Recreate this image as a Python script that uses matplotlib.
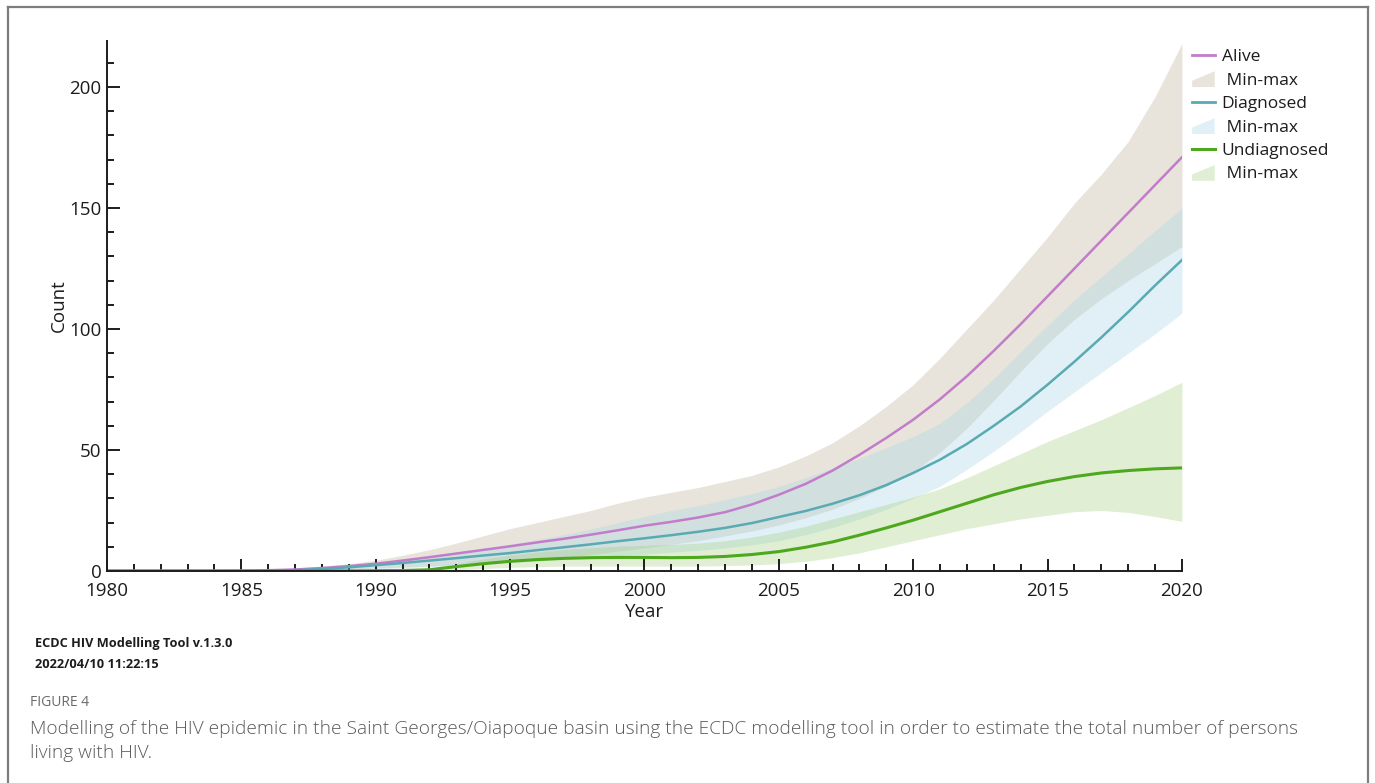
import matplotlib
matplotlib.use("Agg")
import matplotlib.pyplot as plt
from matplotlib.lines import Line2D
from matplotlib.patches import Patch, Polygon
from matplotlib.legend_handler import HandlerPatch

plt.rcParams["font.family"] = ["Open Sans", "DejaVu Sans"]

years = list(range(1980, 2021))

alive = [0, 0, 0, 0, 0, 0.1, 0.3, 0.6, 1.2, 2.0,
         3.0, 4.3, 5.7, 7.2, 8.7, 10.2, 11.8, 13.3, 15.0, 16.8,
         18.7, 20.3, 22.1, 24.3, 27.5, 31.5, 36.0, 41.5, 48.0, 55.0,
         62.5, 71.0, 80.5, 91.0, 102.0, 113.5, 125.0, 136.5, 148.0, 159.5,
         171.0]
alive_lo = [0, 0, 0, 0, 0, 0, 0, 0.1, 0.3, 0.7,
            1.2, 1.6, 2.0, 2.5, 3.0, 3.5, 4.5, 5.5, 6.8, 8.2,
            9.5, 11.0, 12.5, 14.5, 16.5, 19.0, 22.0, 25.5, 30.0, 35.0,
            41.0, 49.0, 59.0, 70.5, 82.5, 94.0, 104.0, 112.5, 120.0, 127.0,
            134.0]
alive_hi = [0, 0, 0, 0, 0, 0.2, 0.5, 1.2, 2.0, 3.0,
            4.4, 6.5, 8.8, 11.5, 14.5, 17.5, 20.0, 22.5, 25.0, 28.0,
            30.5, 32.5, 34.5, 37.0, 39.5, 43.0, 47.5, 53.0, 60.0, 68.0,
            77.0, 88.0, 100.0, 112.0, 125.0, 138.0, 152.0, 164.0, 177.5, 196.0,
            218.0]

diagnosed = [0, 0, 0, 0, 0, 0, 0, 0.3, 0.8, 1.5,
             2.4, 3.3, 4.3, 5.3, 6.4, 7.4, 8.6, 9.8, 11.0, 12.3,
             13.5, 14.8, 16.2, 17.8, 19.8, 22.3, 24.8, 27.8, 31.3, 35.5,
             40.5, 46.0, 52.5, 60.0, 68.0, 77.0, 86.5, 96.5, 107.0, 118.0,
             128.5]
diagnosed_lo = [0, 0, 0, 0, 0, 0, 0, 0, 0.2, 0.5,
                0.8, 1.3, 1.8, 2.4, 3.0, 3.5, 4.2, 5.0, 5.7, 6.3,
                7.0, 7.8, 8.5, 9.5, 10.8, 12.5, 15.0, 18.0, 21.5, 25.5,
                30.0, 35.0, 42.0, 49.5, 57.5, 66.0, 74.0, 82.0, 90.0, 98.0,
                106.5]
diagnosed_hi = [0, 0, 0, 0, 0, 0, 0.2, 0.5, 1.0, 1.8,
                2.8, 4.2, 5.8, 7.5, 9.3, 11.0, 13.0, 15.0, 17.3, 20.0,
                22.5, 25.0, 27.0, 29.5, 32.0, 35.0, 38.5, 42.5, 46.5, 51.0,
                55.5, 61.0, 69.5, 79.5, 90.5, 101.5, 112.0, 121.5, 131.0, 140.5,
                150.0]

undiagnosed = [0, 0, 0, 0, 0, 0, 0, 0, 0, 0,
               0.1, 0.2, 0.5, 1.8, 3.0, 4.0, 4.7, 5.2, 5.5, 5.6,
               5.6, 5.5, 5.6, 6.0, 6.8, 8.0, 9.8, 12.0, 14.8, 17.8,
               21.0, 24.5, 28.0, 31.5, 34.5, 37.0, 39.0, 40.5, 41.5, 42.2,
               42.6]
undiagnosed_lo = [0, 0, 0, 0, 0, 0, 0, 0, 0, 0,
                  0, 0, 0, 0.5, 1.0, 1.5, 1.8, 2.0, 2.0, 2.0,
                  2.0, 2.0, 2.0, 2.2, 2.5, 3.0, 4.0, 5.5, 7.5, 10.0,
                  12.5, 15.0, 17.5, 19.5, 21.5, 23.0, 24.5, 25.0, 24.2, 22.5,
                  20.5]
undiagnosed_hi = [0, 0, 0, 0, 0, 0, 0, 0, 0, 0,
                  0.2, 0.5, 1.2, 3.0, 5.0, 6.5, 7.8, 8.8, 9.6, 10.2,
                  10.6, 11.0, 11.5, 12.5, 14.0, 16.0, 18.5, 21.5, 24.5, 27.5,
                  30.5, 34.0, 38.5, 43.5, 48.5, 53.5, 58.0, 62.5, 67.5, 72.5,
                  78.0]

PURPLE, TEAL, GREEN = "#c27cc9", "#5aaab3", "#4ea81d"
BEIGE_F, BLUE_F, GREEN_F = (0.78, 0.74, 0.66, 0.40), (0.66, 0.84, 0.90, 0.35), (0.60, 0.79, 0.45, 0.30)
INK = "#1c1c1c"

fig = plt.figure(figsize=(13.75, 7.83), dpi=100)
ax = fig.add_axes([0.0778, 0.2708, 0.7818, 0.6768])

ax.fill_between(years, alive_lo, alive_hi, color=BEIGE_F, lw=0)
ax.fill_between(years, diagnosed_lo, diagnosed_hi, color=BLUE_F, lw=0)
ax.fill_between(years, undiagnosed_lo, undiagnosed_hi, color=GREEN_F, lw=0)
ax.plot(years, alive, color=PURPLE, lw=1.8)
ax.plot(years, diagnosed, color=TEAL, lw=1.8)
ax.plot(years, undiagnosed, color=GREEN, lw=2.2)

ax.set_xlim(1980, 2020)
ax.set_ylim(0, 219)
for s in ("top", "right"):
    ax.spines[s].set_visible(False)
for s in ("left", "bottom"):
    ax.spines[s].set_color(INK)
    ax.spines[s].set_linewidth(1.4)

ax.set_xticks(range(1980, 2021, 5))
ax.set_xticks(range(1980, 2021), minor=True)
ax.set_yticks(range(0, 201, 50))
ax.set_yticks(range(0, 211, 10), minor=True)
ax.tick_params(which="both", direction="in", color=INK, width=1.4, labelsize=13.5,
               labelcolor=INK)
ax.tick_params(which="major", length=9)
ax.tick_params(which="minor", length=5)
ax.tick_params(axis="x", pad=8)
ax.tick_params(axis="y", pad=4)
ax.set_xlabel("Year", fontsize=13.5, color=INK, labelpad=2)
ax.set_ylabel("Count", fontsize=13.5, color=INK, labelpad=1)


class WedgeHandler(HandlerPatch):
    """Legend key for the min-max bands: a small rising wedge."""
    def create_artists(self, legend, orig_handle, xdescent, ydescent,
                       width, height, fontsize, trans):
        x0, y0 = -xdescent, -ydescent - 0.2 * height
        h = height * 1.3
        poly = Polygon([(x0, y0), (x0 + width, y0), (x0 + width, y0 + h),
                        (x0, y0 + 0.4 * h)], closed=True,
                       facecolor=orig_handle.get_facecolor(), lw=0, transform=trans)
        return [poly]


handles = [Line2D([], [], color=PURPLE, lw=2), Patch(color=BEIGE_F),
           Line2D([], [], color=TEAL, lw=2), Patch(color=BLUE_F),
           Line2D([], [], color=GREEN, lw=2.2), Patch(color=GREEN_F)]
labels = ["Alive", " Min-max", "Diagnosed", " Min-max", "Undiagnosed", " Min-max"]
leg = ax.legend(handles, labels, loc="upper left", bbox_to_anchor=(1.003, 0.998),
                frameon=False, fontsize=12.5, handlelength=1.3, handletextpad=0.4,
                labelspacing=0.42, borderaxespad=0.0,
                handler_map={Patch: WedgeHandler()})
for t in leg.get_texts():
    t.set_color(INK)

fig.text(35 / 1375, 1 - 643 / 783, "ECDC HIV Modelling Tool v.1.3.0", fontsize=9.2,
         fontweight="bold", color=INK, va="center", ha="left")
fig.text(35 / 1375, 1 - 665 / 783, "2022/04/10 11:22:15", fontsize=9.2,
         fontweight="bold", color=INK, va="center", ha="left")
fig.text(30 / 1375, 1 - 702 / 783, "FIGURE 4", fontsize=10, color="#6a6a6a",
         va="center", ha="left")
fig.text(30 / 1375, 1 - 729 / 783,
         "Modelling of the HIV epidemic in the Saint Georges/Oiapoque basin using the ECDC "
         "modelling tool in order to estimate the total number of persons",
         fontsize=13.8, color="#5a5a5a", va="center", ha="left", fontweight="light")
fig.text(30 / 1375, 1 - 753 / 783, "living with HIV.",
         fontsize=13.8, color="#5a5a5a", va="center", ha="left", fontweight="light")

# page frame: left, top and right edges
frame_kw = dict(color="#7d7d7d", lw=1.6, transform=fig.transFigure, clip_on=False)
fig.add_artist(Line2D([8 / 1375, 8 / 1375], [0, 1 - 7 / 783], **frame_kw))
fig.add_artist(Line2D([8 / 1375, 1368 / 1375], [1 - 7 / 783, 1 - 7 / 783], **frame_kw))
fig.add_artist(Line2D([1368 / 1375, 1368 / 1375], [0, 1 - 7 / 783], **frame_kw))

fig.savefig("out.png", dpi=100)
